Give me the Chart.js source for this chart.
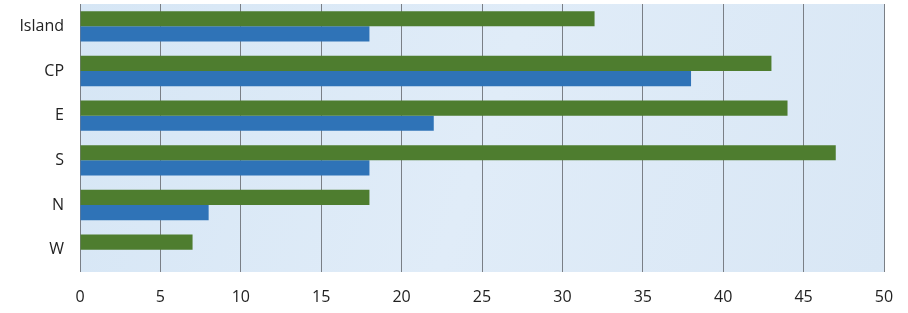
<!DOCTYPE html>
<html>
<head>
<meta charset="utf-8">
<script src="https://cdn.jsdelivr.net/npm/chart.js@4"></script>
<style>
  html, body { margin: 0; padding: 0; background: #fff; }
  #wrap { width: 908px; height: 313px; }
</style>
</head>
<body>
<div id="wrap"><canvas id="chart"></canvas></div>
<script>
// data
const categories = ['Island', 'CP', 'E', 'S', 'N', 'W'];
const greenValues = [32, 43, 44, 47, 18, 7];
const blueValues = [18, 38, 22, 18, 8, 0];
const xTicks = [0, 5, 10, 15, 20, 25, 30, 35, 40, 45, 50];

// light blue plot background
const plotBackground = {
    id: 'plotBackground',
    beforeDraw(chart) {
        const { ctx, chartArea: a } = chart;
        ctx.save();
        const g = ctx.createLinearGradient(a.left, a.top, a.right, a.bottom);
        g.addColorStop(0, '#d6e6f5');
        g.addColorStop(0.5, '#e0ecf8');
        g.addColorStop(1, '#d9e7f5');
        ctx.fillStyle = g;
        ctx.fillRect(a.left, a.top, a.right - a.left, a.bottom - a.top);
        ctx.restore();
    }
};

const ctx = document.getElementById('chart').getContext('2d');
const chart = new Chart(ctx, {
    type: 'bar',
    data: {
        labels: categories,
        datasets: [{
            data: greenValues,
            backgroundColor: '#4e7d2f',
            borderWidth: 0
        }, {
            data: blueValues,
            backgroundColor: '#2f73b7',
            borderWidth: 0
        }]
    },
    options: {
        indexAxis: 'y',
        responsive: true,
        maintainAspectRatio: false,
        animation: false,
        layout: { padding: { top: 4, right: 24, left: 0, bottom: 0 } },
        datasets: {
            bar: { categoryPercentage: 0.68, barPercentage: 1 }
        },
        plugins: {
            legend: { display: false },
            tooltip: { enabled: false }
        },
        scales: {
            x: {
                min: 0,
                max: 50,
                afterBuildTicks: s => { s.ticks = xTicks.map(v => ({ value: v })); },
                afterFit: s => { s.height = 41; s.paddingLeft = 0; s.paddingRight = 0; },
                grid: { color: '#7a7f86', lineWidth: 1, drawTicks: false },
                border: { display: false },
                ticks: {
                    padding: 16,
                    color: '#222',
                    font: { family: 'Open Sans', size: 16 }
                }
            },
            y: {
                afterFit: s => { s.width = 80; s.paddingTop = 0; s.paddingBottom = 0; },
                grid: { display: false, drawTicks: false },
                border: { display: false },
                ticks: {
                    padding: 16,
                    color: '#222',
                    font: { family: 'Open Sans', size: 16 }
                }
            }
        }
    },
    plugins: [plotBackground]
});
</script>
</body>
</html>
